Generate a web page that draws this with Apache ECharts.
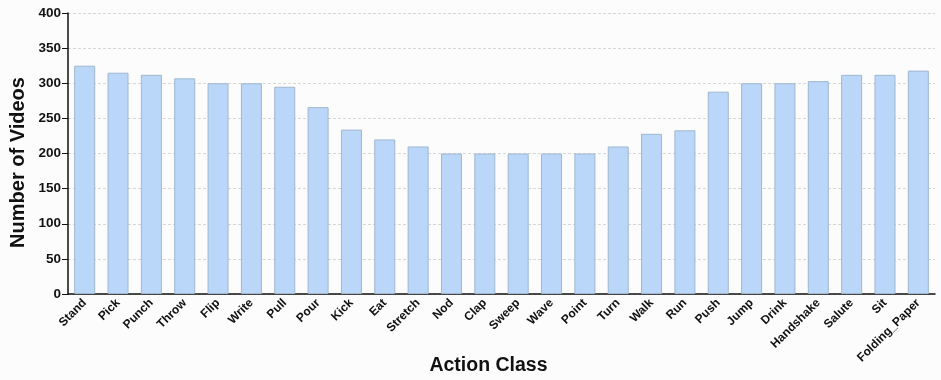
<!DOCTYPE html>
<html lang="en">
<head>
  <meta charset="UTF-8">
  <title>Number of Videos per Action Class</title>
  <script src="https://cdn.jsdelivr.net/npm/echarts@6.0.0/dist/echarts.min.js"></script>
  <style>
    html, body { margin: 0; padding: 0; background: #fcfcfc; }
    #chart { width: 941px; height: 380px; }
  </style>
</head>
<body>
  <div id="chart"></div>
  <script>
    // data
    const actions = ['Stand','Pick','Punch','Throw','Flip','Write','Pull','Pour','Kick','Eat','Stretch','Nod','Clap',
      'Sweep','Wave','Point','Turn','Walk','Run','Push','Jump','Drink','Handshake','Salute','Sit','Folding_Paper'];
    const videoCounts = [325, 315, 312, 307, 300, 300, 295, 266, 234, 220, 210, 200, 200,
      200, 200, 200, 210, 228, 233, 288, 300, 300, 303, 312, 312, 318];

    const font = '"Liberation Sans", Arial, sans-serif';
    const chart = echarts.init(document.getElementById('chart'));
    chart.setOption({
      backgroundColor: '#fcfcfc',
      animation: false,
      grid: { left: 68, right: 6, top: 13, bottom: 86, containLabel: false, outerBoundsMode: 'none' },
      xAxis: {
        type: 'category',
        data: actions,
        name: 'Action Class',
        nameLocation: 'middle',
        nameGap: 62,
        nameMoveOverlap: false,
        nameTextStyle: { fontFamily: font, fontWeight: 'bold', fontSize: 19.5, color: '#111', padding: [0, 26, 0, 0] },
        axisLine: { lineStyle: { color: '#111', width: 1.5 } },
        axisTick: { show: false },
        axisLabel: { rotate: 45, interval: 0, fontFamily: font, fontWeight: 'bold', fontSize: 12, color: '#111', margin: 7 }
      },
      yAxis: {
        type: 'value',
        min: 0, max: 400, interval: 50,
        name: 'Number of Videos',
        nameLocation: 'middle',
        nameGap: 40,
        nameMoveOverlap: false,
        nameTextStyle: { fontFamily: font, fontWeight: 'bold', fontSize: 20, color: '#111', padding: [0, 18, 0, 0] },
        axisLine: { show: true, lineStyle: { color: '#111', width: 1.5 } },
        axisTick: { show: true, length: 6, lineStyle: { color: '#111' } },
        axisLabel: { fontFamily: font, fontWeight: 'bold', fontSize: 13.5, color: '#111', margin: 7 },
        splitLine: { lineStyle: { color: '#d6d6d6', type: [3, 2] } }
      },
      series: [{
        type: 'bar',
        data: videoCounts,
        barWidth: 21,
        itemStyle: { color: '#bad7fa', borderColor: '#9fb6cf', borderWidth: 1 }
      }]
    });
  </script>
</body>
</html>
